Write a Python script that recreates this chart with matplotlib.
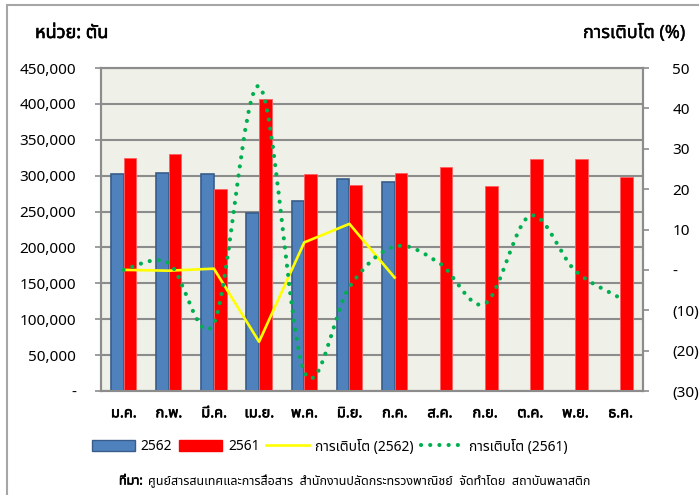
import numpy as np
import matplotlib
matplotlib.use('Agg')
import matplotlib.pyplot as plt
import matplotlib.patheffects as pe
from matplotlib import font_manager
from matplotlib.ft2font import FT2Font
from matplotlib.path import Path
from matplotlib.patches import PathPatch, Patch, Rectangle
from matplotlib.lines import Line2D

# data
months = ['ม.ค.', 'ก.พ.', 'มี.ค.', 'เม.ย.', 'พ.ค.', 'มิ.ย.', 'ก.ค.',
          'ส.ค.', 'ก.ย.', 'ต.ค.', 'พ.ย.', 'ธ.ค.']
vol_2562 = [303000, 303500, 303000, 248000, 265000, 295000, 291000]
vol_2561 = [325000, 329500, 281000, 407500, 302000, 287000, 303500,
            312500, 285000, 323000, 323000, 297500]
growth_2562 = [0.0, -0.2, 0.3, -17.8, 6.8, 11.4, -1.9]
growth_2561 = [0.0, 1.7, -13.2, 45.5, -25.2, -4.2, 5.8, 1.6, -8.4, 13.4, -0.2, -7.0]
left_ticks = [0, 50000, 100000, 150000, 200000, 250000, 300000, 350000, 400000, 450000]
left_labels = ['-', '50,000', '100,000', '150,000', '200,000', '250,000',
               '300,000', '350,000', '400,000', '450,000']
right_ticks = [-30, -20, -10, 0, 10, 20, 30, 40, 50]
right_labels = ['(30)', '(20)', '(10)', '-', '10', '20', '30', '40', '50']


def find_thai_font():
    found = []
    for f in font_manager.fontManager.ttflist:
        try:
            ft = FT2Font(f.fname)
            if ft.get_char_index(0x0E01) and ft.get_char_index(0x0030):
                found.append(f.name)
        except Exception:
            pass
    for pref in ['Tahoma', 'Noto Sans Thai', 'Loma', 'Garuda', 'Norasi']:
        if pref in found:
            return pref
    return found[0] if found else 'DejaVu Sans'


thai = find_thai_font()
plt.rcParams['font.family'] = [thai, 'DejaVu Sans']

# fake bold: the Thai face has no bold variant here
bold = [pe.withStroke(linewidth=0.45, foreground='black')]
semi = [pe.withStroke(linewidth=0.25, foreground='black')]

grey = '#8c8c8c'
fig = plt.figure(figsize=(6.99, 4.95), dpi=100)
fig.patches.append(Rectangle((7 / 699, -0.1), 1.2, 1.1 - 5 / 495, transform=fig.transFigure,
                             fill=False, edgecolor='#a6a6a6', lw=1.5))

ax = fig.add_axes([101 / 699, 1 - 391 / 495, 542 / 699, 323 / 495])
ax.set_facecolor('#eff1e8')
x = np.arange(len(months))
w = 0.28
ax.bar(x[:len(vol_2562)] - w / 2, vol_2562, w, color='#4f81bd', edgecolor='#385d8a', lw=1.2, zorder=3)
ax.bar(x + w / 2, vol_2561, w, color='#ff0000', edgecolor='#ff6060', lw=0.6, zorder=3)
ax.set_xlim(-0.5, 11.5)
ax.set_ylim(0, 450000)
ax.set_yticks(left_ticks)
ax.set_yticklabels(left_labels, fontsize=11)
ax.set_xticks(x)
ax.set_xticklabels(months, fontsize=10.5, path_effects=bold)
ax.tick_params(axis='x', length=0, pad=11)
ax.tick_params(axis='y', length=4, width=1.2, color=grey, pad=14)
ax.yaxis.grid(True, color=grey, lw=1.5, zorder=1)
ax.set_axisbelow(True)
for s in ax.spines.values():
    s.set_color(grey)
    s.set_linewidth(1.5)

ax2 = ax.twinx()
ax2.set_ylim(-30, 50)
ax2.set_yticks(right_ticks)
ax2.set_yticklabels(right_labels, fontsize=11)
ax2.tick_params(axis='y', length=4, width=1.2, color=grey, pad=17)
for s in ax2.spines.values():
    s.set_color(grey)
    s.set_linewidth(1.5)

ax2.plot(x[:len(growth_2562)], growth_2562, color='#ffff00', lw=1.9, zorder=4)

# smoothed dotted line (Excel style) through the 2561 growth points
pts = np.column_stack([x, growth_2561]).astype(float)
verts = [pts[0]]
codes = [Path.MOVETO]
n = len(pts)
for i in range(n - 1):
    p_prev = pts[max(i - 1, 0)]
    p_next2 = pts[min(i + 2, n - 1)]
    c1 = pts[i] + (pts[i + 1] - p_prev) / 6
    c2 = pts[i + 1] - (p_next2 - pts[i]) / 6
    verts += [c1, c2, pts[i + 1]]
    codes += [Path.CURVE4] * 3
ax2.add_patch(PathPatch(Path(verts, codes), fill=False, edgecolor='#00b050', lw=3.0,
                        linestyle=(0, (0.01, 2.2)), capstyle='round', zorder=5))

fig.text(35 / 699, 1 - 33 / 495, 'หน่วย: ตัน', fontsize=13, va='center', ha='left', path_effects=bold)
fig.text(686 / 699, 1 - 33 / 495, 'การเติบโต (%)', fontsize=13, va='center', ha='right', path_effects=semi)

handles = [Patch(facecolor='#4f81bd', edgecolor='#385d8a'),
           Patch(facecolor='#ff0000', edgecolor='#ff0000'),
           Line2D([], [], color='#ffff00', lw=1.9),
           Line2D([], [], color='#00b050', lw=3.0, linestyle=(0, (0.01, 2.2)), dash_capstyle='round')]
fig.legend(handles, ['2562', '2561', 'การเติบโต (2562)', 'การเติบโต (2561)'],
           loc='center', bbox_to_anchor=(330 / 699, 1 - 447 / 495), ncol=4, frameon=False,
           fontsize=10, handlelength=3.1, handleheight=0.9, handletextpad=0.4, columnspacing=0.5)

fig.text(119 / 699, 1 - 481 / 495, 'ที่มา:', fontsize=9, va='center', ha='left', path_effects=bold)
fig.text(148 / 699, 1 - 481 / 495,
         'ศูนย์สารสนเทศและการสื่อสาร  สำนักงานปลัดกระทรวงพาณิชย์  จัดทำโดย  สถาบันพลาสติก',
         fontsize=9, va='center', ha='left')

fig.savefig('out.png', dpi=100)
